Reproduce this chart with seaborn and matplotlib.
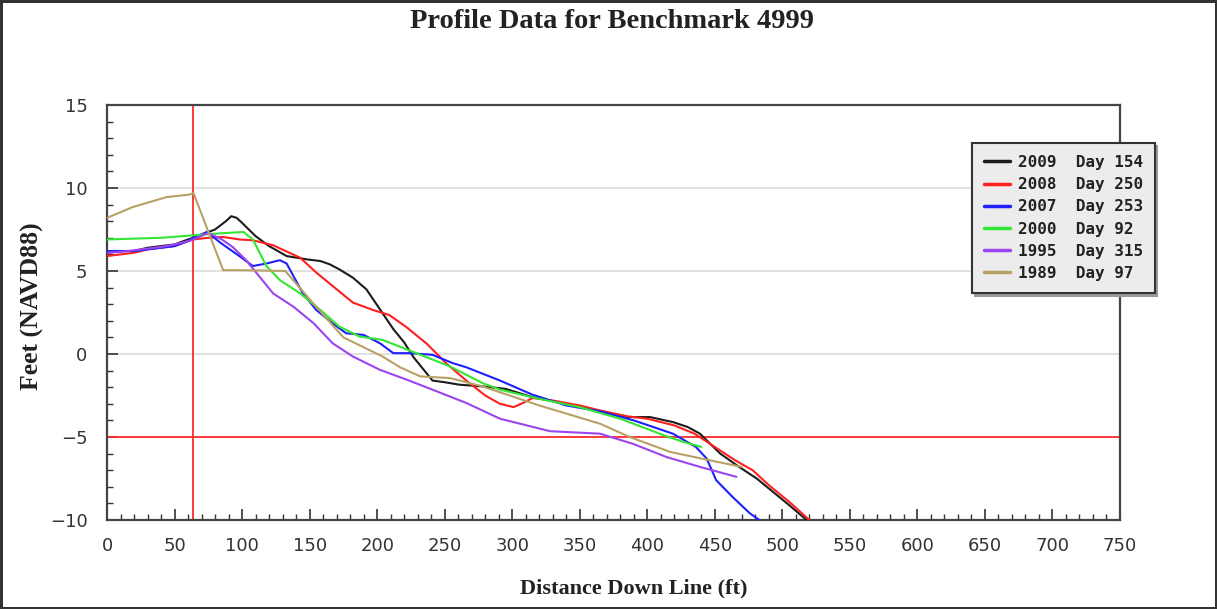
import numpy as np
import pandas as pd
import matplotlib
matplotlib.use("Agg")
import matplotlib.pyplot as plt
import seaborn as sns
from matplotlib.ticker import MultipleLocator

# ---------------- data ----------------
series_labels = ["2009  Day 154", "2008  Day 250", "2007  Day 253",
                 "2000  Day 92 ", "1995  Day 315", "1989  Day 97 "]
series_colors = ["#1c1c1c", "#ff1f1f", "#1f1fff", "#33e633", "#9b45f0", "#b9a064"]

x_2009 = [0, 10, 20, 30, 40, 50, 60, 64, 70, 80, 88, 92, 96, 100, 105, 110, 120, 133, 148, 158,
          165, 172, 182, 192, 202, 212, 220, 227, 237, 241, 250, 261, 278, 295, 315, 340, 365,
          385, 402, 419, 430, 439, 444, 454, 468, 481, 490, 505, 518]
y_2009 = [6.1, 6.2, 6.2, 6.4, 6.5, 6.6, 6.9, 7.0, 7.2, 7.5, 8.0, 8.3, 8.2, 7.9, 7.5, 7.1, 6.5,
          5.9, 5.7, 5.6, 5.4, 5.1, 4.6, 3.9, 2.7, 1.5, 0.7, -0.2, -1.2, -1.6, -1.7, -1.85, -1.95,
          -2.1, -2.6, -3.0, -3.5, -3.8, -3.8, -4.1, -4.4, -4.8, -5.2, -6.0, -6.8, -7.5, -8.1,
          -9.1, -10.0]

x_2008 = [0, 10, 20, 30, 40, 50, 60, 64, 75, 86, 98, 108, 123, 143, 155, 167, 182, 197, 209,
          222, 237, 251, 266, 280, 291, 301, 308, 315, 330, 350, 365, 385, 400, 420, 435, 450,
          465, 478, 490, 505, 520]
y_2008 = [5.9, 6.0, 6.1, 6.3, 6.4, 6.5, 6.8, 6.9, 7.0, 7.05, 6.9, 6.85, 6.55, 5.8, 4.9, 4.1,
          3.1, 2.65, 2.35, 1.6, 0.6, -0.55, -1.6, -2.5, -3.0, -3.2, -2.95, -2.65, -2.8, -3.1,
          -3.4, -3.75, -3.9, -4.3, -4.8, -5.6, -6.4, -7.0, -7.9, -8.9, -10.0]

x_2007 = [0, 10, 20, 30, 40, 50, 60, 64, 74, 84, 98, 108, 118, 128, 133, 138, 145, 155, 167,
          177, 190, 202, 212, 224, 241, 256, 266, 291, 315, 340, 365, 390, 419, 436, 444, 451,
          463, 476, 483]
y_2007 = [6.2, 6.2, 6.2, 6.3, 6.4, 6.5, 6.8, 7.0, 7.35, 6.7, 5.9, 5.3, 5.45, 5.65, 5.45, 4.7,
          3.65, 2.65, 1.85, 1.25, 1.15, 0.65, 0.05, 0.05, -0.05, -0.55, -0.8, -1.6, -2.45,
          -3.1, -3.45, -4.0, -4.8, -5.6, -6.3, -7.6, -8.6, -9.6, -10.0]

x_2000 = [0, 20, 40, 64, 80, 101, 108, 118, 128, 143, 158, 172, 187, 204, 229, 254, 278, 291,
          320, 350, 380, 414, 427, 440]
y_2000 = [6.9, 6.95, 7.0, 7.15, 7.25, 7.35, 6.9, 5.3, 4.45, 3.65, 2.65, 1.65, 1.05, 0.85,
          0.05, -0.75, -1.75, -2.15, -2.7, -3.2, -3.9, -4.95, -5.3, -5.6]

x_1995 = [0, 10, 20, 30, 40, 50, 60, 64, 75, 85, 93, 103, 113, 123, 138, 153, 167, 182, 202,
          222, 241, 266, 291, 328, 365, 389, 414, 439, 466]
y_1995 = [6.1, 6.15, 6.25, 6.35, 6.45, 6.6, 6.8, 6.9, 7.3, 6.9, 6.45, 5.65, 4.65, 3.65, 2.85,
          1.85, 0.65, -0.15, -0.95, -1.55, -2.15, -2.95, -3.9, -4.65, -4.8, -5.4, -6.2, -6.8,
          -7.4]

x_1989 = [0, 19, 44, 61, 64, 86, 100, 132, 150, 175, 204, 217, 232, 254, 278, 320, 365, 387,
          417, 446, 470]
y_1989 = [8.2, 8.85, 9.45, 9.6, 9.7, 5.05, 5.05, 5.0, 3.3, 1.0, -0.15, -0.8, -1.35, -1.45,
          -1.95, -3.1, -4.2, -5.0, -5.9, -6.4, -6.8]

ref_x = 64
ref_y = -5
x_ticks = list(range(0, 751, 50))
y_ticks = [-10, -5, 0, 5, 10, 15]

title_text = "Profile Data for Benchmark 4999"
xlabel_text = "Distance Down Line (ft)"
ylabel_text = "Feet (NAVD88)"

# ---------------- build table ----------------
all_x = [x_2009, x_2008, x_2007, x_2000, x_1995, x_1989]
all_y = [y_2009, y_2008, y_2007, y_2000, y_1995, y_1989]
frames = []
for lab, xs, ys in zip(series_labels, all_x, all_y):
    frames.append(pd.DataFrame({"dist": xs, "elev": ys, "survey": lab}))
df = pd.concat(frames, ignore_index=True)

# ---------------- plot ----------------
sns.set_theme(style="white")
plt.rcParams["font.family"] = ["DejaVu Sans"]

fig = plt.figure(figsize=(12.17, 6.09), dpi=100)
fig.patch.set_facecolor("white")
fig.patch.set_edgecolor("#333333")
fig.patch.set_linewidth(2.5)

ax = fig.add_axes([107 / 1217, 1 - 520 / 609, (1120 - 107) / 1217, (520 - 105) / 609])

for y in [0, 5, 10]:
    ax.axhline(y, color="#dcdcdc", lw=1.2, zorder=0)

sns.lineplot(data=df, x="dist", y="elev", hue="survey", hue_order=series_labels,
             palette=dict(zip(series_labels, series_colors)), sort=False,
             estimator=None, linewidth=1.5, ax=ax, zorder=3)

ax.axvline(ref_x, color="#ff2a2a", lw=1.3, zorder=2)
ax.axhline(ref_y, color="#ff2a2a", lw=1.3, zorder=2)

ax.set_xlim(0, 750)
ax.set_ylim(-10, 15)
ax.set_xticks(x_ticks)
ax.set_yticks(y_ticks)
ax.xaxis.set_minor_locator(MultipleLocator(10))
ax.yaxis.set_minor_locator(MultipleLocator(1))
ax.tick_params(axis="both", which="both", direction="in", left=True, bottom=True,
               top=False, right=False, colors="#333333", labelsize=13)
ax.tick_params(axis="x", which="major", pad=12)
ax.tick_params(axis="y", which="major", pad=14)
ax.tick_params(which="major", length=8, width=1.2)
ax.tick_params(which="minor", length=4, width=1.0)
for lab in ax.get_xticklabels() + ax.get_yticklabels():
    lab.set_color("#333333")
for s in ax.spines.values():
    s.set_color("#444444")
    s.set_linewidth(1.6)

ax.set_xlabel("")
ax.set_ylabel("")
fig.text(634 / 1217, 1 - 588 / 609, xlabel_text, ha="center", va="center",
         fontfamily="Liberation Serif", fontweight="bold", fontsize=16, color="#222222")
fig.text(32 / 1217, 1 - 306 / 609, ylabel_text, ha="center", va="center", rotation=90,
         fontfamily="Liberation Serif", fontweight="bold", fontsize=18.5, color="#222222")

fig.text(612 / 1217, 1 - 22 / 609, title_text, ha="center", va="center",
         fontfamily="Liberation Serif", fontweight="bold", fontsize=20.5, color="#222222")

handles, labels = ax.get_legend_handles_labels()
leg = ax.legend(handles, labels, loc="upper left",
                bbox_to_anchor=((972 - 107) / 1013, (520 - 143) / 415),
                frameon=True, fancybox=False, shadow={"color": "#9a9a9a", "alpha": 1},
                facecolor="#ececec", edgecolor="#333333", framealpha=1,
                prop={"family": "DejaVu Sans Mono", "weight": "bold", "size": 11.5},
                handlelength=1.6, handletextpad=0.5, borderpad=0.75, labelspacing=0.45,
                borderaxespad=0)
leg.get_frame().set_linewidth(1.5)
leg.set_zorder(10)
for t in leg.get_texts():
    t.set_color("#222222")
for h in leg.get_lines():
    h.set_linewidth(2.5)

fig.savefig("out.png", dpi=100, facecolor=fig.get_facecolor(), edgecolor=fig.get_edgecolor())
